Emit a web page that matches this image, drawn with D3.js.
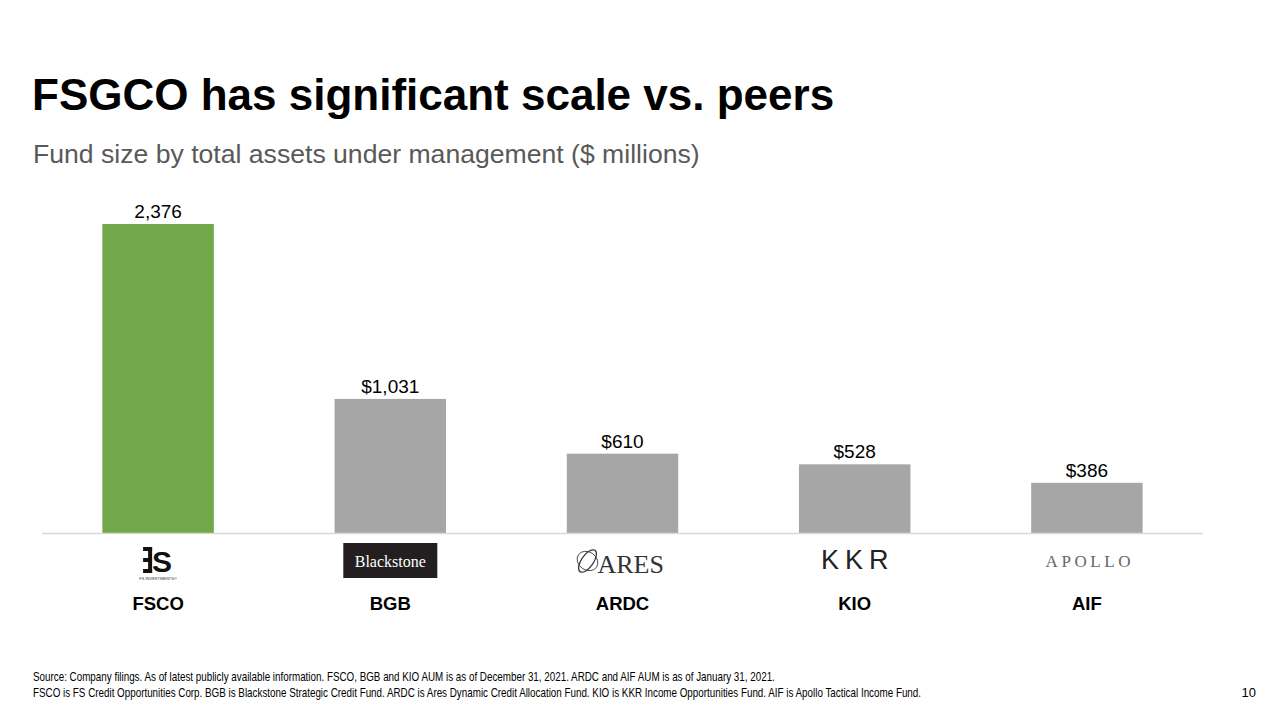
<!DOCTYPE html>
<html><head><meta charset="utf-8">
<script src="https://cdn.jsdelivr.net/npm/d3@7/dist/d3.min.js"></script>
<style>html,body{margin:0;padding:0;background:#fff;}svg{display:block;}</style>
</head><body>
<svg id="c" width="1280" height="720"></svg>
<script>
const categories = ["FSCO", "BGB", "ARDC", "KIO", "AIF"];
const values = [2376, 1031, 610, 528, 386];
const valueLabels = ["2,376", "$1,031", "$610", "$528", "$386"];
const highlight = ["FSCO"];
const title = "FSGCO has significant scale vs. peers";
const subtitle = "Fund size by total assets under management ($ millions)";
const notes = [
  "Source: Company filings. As of latest publicly available information. FSCO, BGB and KIO AUM is as of December 31, 2021. ARDC and AIF AUM is as of January 31, 2021.",
  "FSCO is FS Credit Opportunities Corp. BGB is Blackstone Strategic Credit Fund. ARDC is Ares Dynamic Credit Allocation Fund. KIO is KKR Income Opportunities Fund. AIF is Apollo Tactical Income Fund."
];
const pageNum = "10";

const svg = d3.select("#c");
const F = "'Liberation Sans', Arial, sans-serif";
const SERIF = "'Liberation Serif', 'DejaVu Serif', serif";

svg.append("text").attr("x", 32).attr("y", 110).attr("font-family", F)
  .attr("font-weight", "bold").attr("font-size", 44).attr("fill", "#000").text(title);
svg.append("text").attr("x", 33).attr("y", 163).attr("font-family", F)
  .attr("font-size", 26.6).attr("fill", "#595959").text(subtitle);

const x = d3.scaleBand().domain(categories).range([42, 1203]).paddingInner(0.52).paddingOuter(0.26);
const baseY = 533;
const y = d3.scaleLinear().domain([0, 2376]).range([baseY, 224]);

const g = svg.append("g");
g.selectAll("rect.bar").data(categories).join("rect").attr("class", "bar")
  .attr("x", d => x(d)).attr("width", x.bandwidth())
  .attr("y", (d, i) => y(values[i])).attr("height", (d, i) => baseY - y(values[i]))
  .attr("fill", d => highlight.includes(d) ? "#70a84a" : "#a6a6a6");

g.selectAll("text.val").data(categories).join("text").attr("class", "val")
  .attr("x", d => x(d) + x.bandwidth() / 2).attr("y", (d, i) => y(values[i]) - 6)
  .attr("text-anchor", "middle").attr("font-family", F).attr("font-size", 19).attr("fill", "#000")
  .text((d, i) => valueLabels[i]);

svg.append("line").attr("x1", 42).attr("x2", 1203).attr("y1", baseY + 0.5).attr("y2", baseY + 0.5)
  .attr("stroke", "#d9d9d9").attr("stroke-width", 1.5);

// category labels via axis
const ax = svg.append("g").attr("transform", `translate(0,${baseY})`)
  .call(d3.axisBottom(x).tickSize(0).tickPadding(64));
ax.select(".domain").remove();
ax.selectAll("text").attr("font-family", F).attr("font-weight", "bold").attr("font-size", 18.5).attr("fill", "#000");

// logos
const cx = d => x(d) + x.bandwidth() / 2;
// FS investments
(function(){
  const lg = svg.append("g").attr("transform", `translate(${cx("FSCO")},563)`);
  lg.append("rect").attr("x", -10).attr("y", -16).attr("width", 4).attr("height", 26).attr("fill", "#111");
  lg.append("rect").attr("x", -15).attr("y", -16).attr("width", 9).attr("height", 4).attr("fill", "#111");
  lg.append("rect").attr("x", -15).attr("y", -5).attr("width", 9).attr("height", 4).attr("fill", "#111");
  lg.append("rect").attr("x", -15).attr("y", 6).attr("width", 9).attr("height", 4).attr("fill", "#111");
  lg.append("text").attr("x", 4).attr("y", 9).attr("text-anchor", "middle").attr("font-family", F)
    .attr("font-weight", "bold").attr("font-size", 30).attr("fill", "#111").text("S");
  lg.append("text").attr("x", 0).attr("y", 17).attr("text-anchor", "middle").attr("font-family", F)
    .attr("font-size", 4).attr("fill", "#333").text("FS INVESTMENTS®");
})();
// Blackstone
(function(){
  const c = cx("BGB");
  svg.append("rect").attr("x", c - 47).attr("y", 543).attr("width", 94).attr("height", 35).attr("fill", "#231f20");
  svg.append("text").attr("x", c).attr("y", 567).attr("text-anchor", "middle")
    .attr("font-family", SERIF).attr("font-size", 16).attr("fill", "#fff").text("Blackstone");
})();
// Ares
(function(){
  const c = cx("ARDC");
  const ex = c - 35, ey = 561;
  svg.append("ellipse").attr("cx", ex).attr("cy", ey).attr("rx", 6).attr("ry", 13)
    .attr("transform", `rotate(35,${ex},${ey})`).attr("fill", "none").attr("stroke", "#333").attr("stroke-width", 1.2);
  svg.append("ellipse").attr("cx", ex).attr("cy", ey).attr("rx", 11).attr("ry", 9)
    .attr("transform", `rotate(35,${ex},${ey})`).attr("fill", "none").attr("stroke", "#333").attr("stroke-width", 0.8);
  svg.append("text").attr("x", c - 25).attr("y", 573).attr("text-anchor", "start")
    .attr("font-family", SERIF).attr("font-size", 26).attr("fill", "#333").text("ARES");
})();
// KKR
svg.append("text").attr("x", cx("KIO") + 3).attr("y", 569).attr("text-anchor", "middle")
  .attr("font-family", F).attr("font-size", 27).attr("letter-spacing", 6).attr("fill", "#222").text("KKR");
// Apollo
svg.append("text").attr("x", cx("AIF") + 3).attr("y", 567).attr("text-anchor", "middle")
  .attr("font-family", SERIF).attr("font-size", 17).attr("letter-spacing", 3.6).attr("fill", "#666").text("APOLLO");

// notes
svg.selectAll("text.note").data(notes).join("text").attr("class", "note")
  .attr("transform", (d, i) => `translate(33,${681 + i * 16}) scale(0.80,1)`)
  .attr("font-family", F).attr("font-size", 12.3).attr("fill", "#000").text(d => d);
svg.append("text").attr("x", 1256).attr("y", 697).attr("text-anchor", "end").attr("font-family", F)
  .attr("font-size", 13).attr("fill", "#000").text(pageNum);
</script>
</body></html>
